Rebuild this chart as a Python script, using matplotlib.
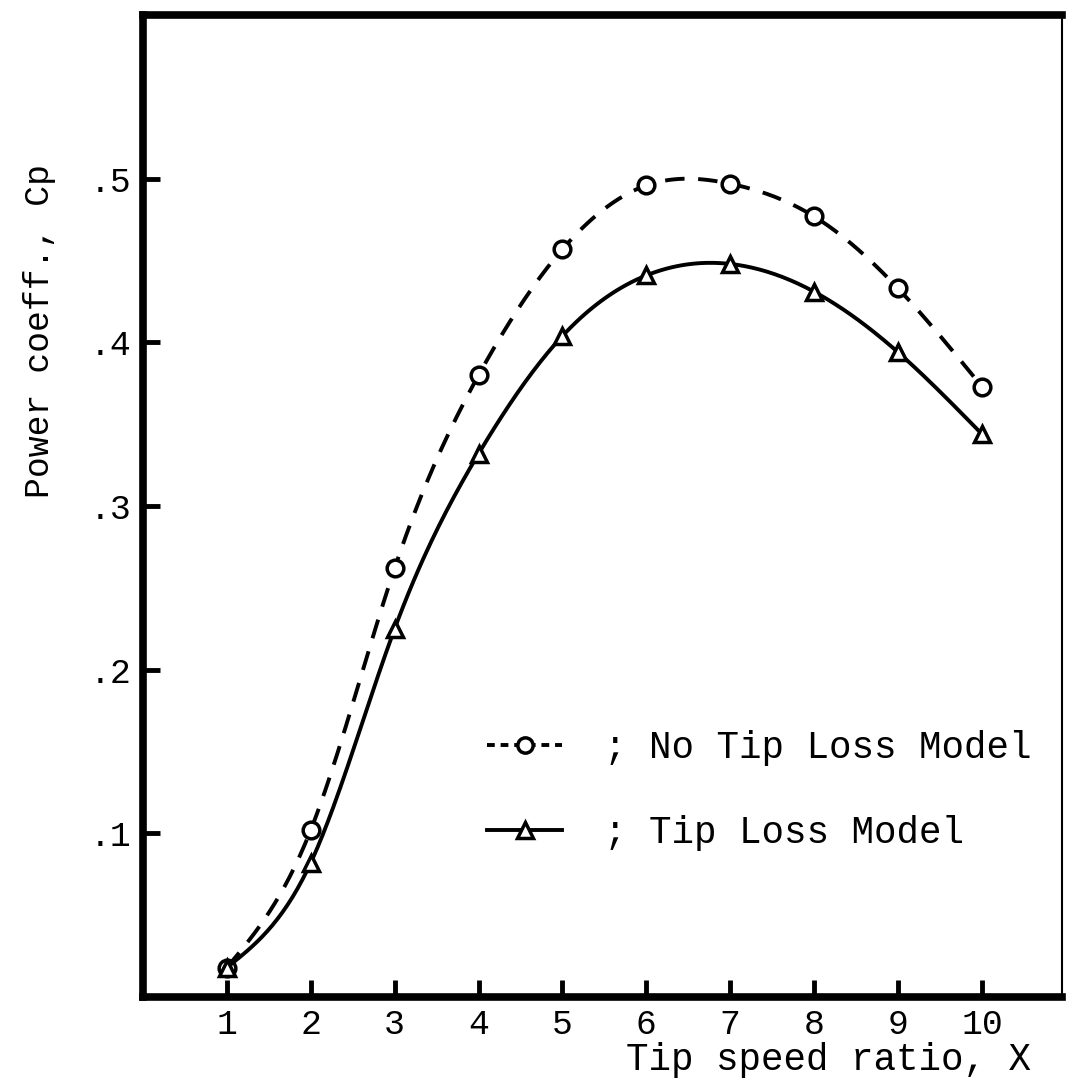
import numpy as np
import matplotlib
matplotlib.use("Agg")
import matplotlib.pyplot as plt
from matplotlib.lines import Line2D

plt.rcParams['font.family'] = ['Liberation Mono', 'DejaVu Sans Mono']

# tip speed ratio
tsr = [1, 2, 3, 4, 5, 6, 7, 8, 9, 10]
# power coefficient, no tip loss model
cp_no_loss = [0.018, 0.102, 0.262, 0.380, 0.457, 0.496, 0.497, 0.477, 0.433, 0.373]
# power coefficient, tip loss model
cp_loss = [0.018, 0.082, 0.225, 0.332, 0.404, 0.441, 0.448, 0.431, 0.394, 0.344]

yticks = [0.1, 0.2, 0.3, 0.4, 0.5]
ytick_labels = ['.1', '.2', '.3', '.4', '.5']


def natural_spline(x, y, n=300):
    # smooth curve through the measured points (drawing only)
    x = np.asarray(x, float)
    y = np.asarray(y, float)
    k = len(x)
    h = np.diff(x)
    A = np.zeros((k, k))
    b = np.zeros(k)
    A[0, 0] = A[-1, -1] = 1
    for i in range(1, k - 1):
        A[i, i - 1] = h[i - 1]
        A[i, i] = 2 * (h[i - 1] + h[i])
        A[i, i + 1] = h[i]
        b[i] = 6 * ((y[i + 1] - y[i]) / h[i] - (y[i] - y[i - 1]) / h[i - 1])
    m = np.linalg.solve(A, b)
    xs = np.linspace(x[0], x[-1], n)
    idx = np.clip(np.searchsorted(x, xs) - 1, 0, k - 2)
    x0, x1 = x[idx], x[idx + 1]
    y0, y1 = y[idx], y[idx + 1]
    m0, m1 = m[idx], m[idx + 1]
    hh = x1 - x0
    t0 = x1 - xs
    t1 = xs - x0
    ys = (m0 * t0**3 + m1 * t1**3) / (6 * hh) + (y0 / hh - m0 * hh / 6) * t0 + (y1 / hh - m1 * hh / 6) * t1
    return xs, ys


fig = plt.figure(figsize=(10.66, 10.85), dpi=100)
ax = fig.add_axes([0.134, 0.081, 0.862, 0.905])

xs, ys = natural_spline(tsr, cp_no_loss)
ax.plot(xs, ys, color='black', lw=2.8, ls=(0, (5, 3.5)))
ax.plot(tsr, cp_no_loss, ls='none', marker='o', ms=12, mfc='white', mec='black', mew=2.5)

xs, ys = natural_spline(tsr, cp_loss)
ax.plot(xs, ys, color='black', lw=2.8)
ax.plot(tsr, cp_loss, ls='none', marker='^', ms=12, mfc='white', mec='black', mew=2.5)

ax.set_xlim(0, 10.95)
ax.set_ylim(0, 0.6)
ax.set_xticks(tsr)
ax.set_xticklabels([str(v) for v in tsr])
ax.set_yticks(yticks)
ax.set_yticklabels(ytick_labels)
ax.tick_params(direction='in', length=12, width=3.5, labelsize=25, pad=8)

for side in ['left', 'top', 'bottom']:
    ax.spines[side].set_linewidth(5.5)
ax.spines['right'].set_linewidth(1.5)

fig.text(0.037, 0.695, 'Power coeff., Cp', rotation=90, ha='center', va='center', fontsize=25)
fig.text(0.967, 0.023, 'Tip speed ratio, X', ha='right', va='center', fontsize=27)

handles = [
    Line2D([], [], color='black', lw=2.8, ls=(0, (2, 1.5)), marker='o', ms=11, mfc='white', mec='black', mew=2.5),
    Line2D([], [], color='black', lw=2.8, marker='^', ms=11, mfc='white', mec='black', mew=2.5),
]
ax.legend(handles, ['; No Tip Loss Model', '; Tip Loss Model'], loc='upper left',
          bbox_to_anchor=(0.375, 0.272), frameon=False, fontsize=27,
          handlelength=2.0, handletextpad=1.1, labelspacing=1.3,
          borderpad=0, borderaxespad=0, markerscale=1.0)

fig.savefig('out.png', dpi=100)
